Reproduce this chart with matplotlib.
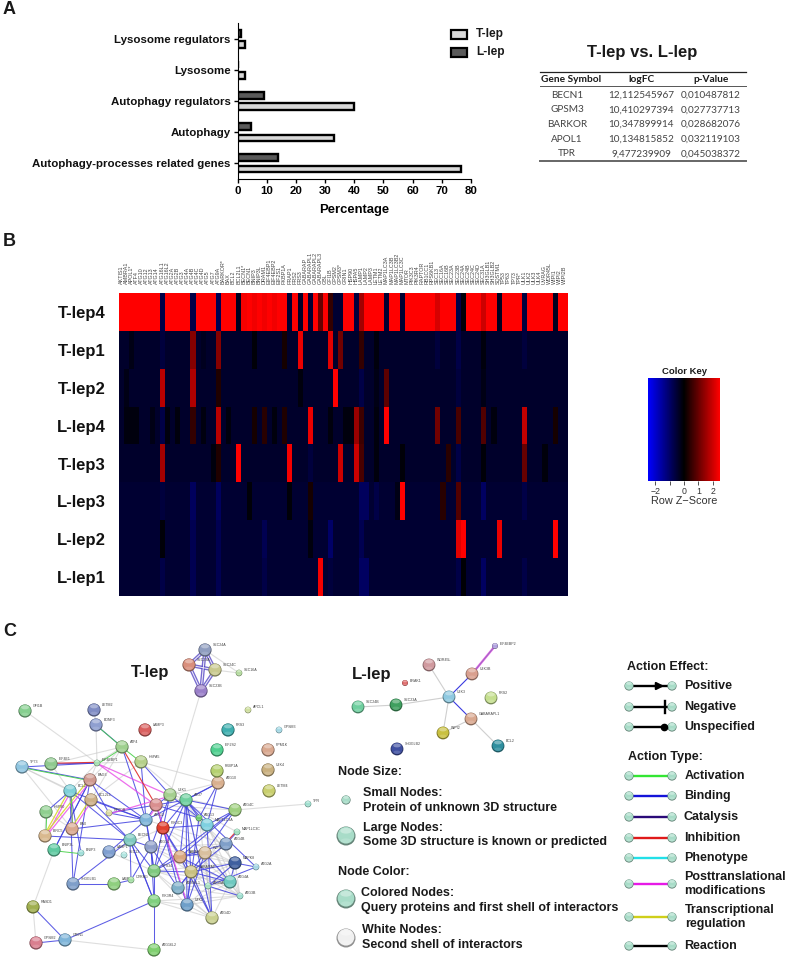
import numpy as np
from matplotlib import pyplot as plt
from matplotlib.colors import LinearSegmentedColormap, Normalize
from matplotlib.cm import ScalarMappable
from matplotlib.patches import Circle, Ellipse, Rectangle

W, H = 786, 959
FONT = 'Liberation Sans'
plt.rcParams['font.family'] = [FONT, 'DejaVu Sans']

# panel A
categories = ['Autophagy-processes related genes', 'Autophagy', 'Autophagy regulators',
              'Lysosome', 'Lysosome regulators']
t_lep = [76.5, 33, 40, 2.5, 2.5]
l_lep = [14, 4.5, 9, 0.3, 1.2]

table_head = ['Gene Symbol', 'logFC', 'p-Value']
table_genes = ['BECN1', 'GPSM3', 'BARKOR', 'APOL1', 'TPR']
table_logfc = ['12,112545967', '10,410297394', '10,347899914', '10,134815852', '9,477239909']
table_pval = ['0,010487812', '0,027737713', '0,028682076', '0,032119103', '0,045038372']

# panel B, stripes are {column: z-score}, everything else is the row's background
genes = ['AKTIS1', 'AMBRA1', 'APOL1*', 'ATF4', 'ATG10', 'ATG12', 'ATG13', 'ATG14', 'ATG16L1', 'ATG16L2',
         'ATG2A', 'ATG2B', 'ATG3', 'ATG4A', 'ATG4B', 'ATG4C', 'ATG4D', 'ATG5', 'ATG7', 'ATG9A',
         'BARKOR*', 'BAX', 'BCL2', 'BCL2L1', 'BECN1*', 'BECN1', 'BNIP3', 'BNIP3L', 'DRAM1', 'EIF4EBP1',
         'EIF4EBP2', 'EIF2S1', 'FKBP1A', 'FRAP1', 'FRS2', 'FRS3', 'GABARAP', 'GABARAPL1', 'GABARAPL2', 'GABARAPL3',
         'GBL', 'GFI1B', 'GPSM2', 'GPSM3*', 'GRIN1', 'HSP90', 'HSPA5', 'LAMP1', 'LAMP2', 'LAMP3',
         'LETM1', 'LETM2', 'MAP1LC3A', 'MAP1LC3B', 'MAP1LC3B2', 'MAP1LC3C', 'MTOR', 'PIK3C3', 'PIK3R4', 'RAPTOR',
         'RB1CC1', 'RPS6KB1', 'SEC13', 'SEC16A', 'SEC16B', 'SEC23A', 'SEC23B', 'SEC24A', 'SEC24B', 'SEC24C',
         'SEC24D', 'SEC31A', 'SH3GLB1', 'SH3GLB2', 'SQSTM1', 'TP53', 'TP63', 'TP73', 'TPR*', 'ULK1',
         'ULK2', 'ULK3', 'ULK4', 'UVRAG', 'WDR45L', 'WIPI1', 'WIPI2', 'WIPI2B']
row_names = ['T-lep4', 'T-lep1', 'T-lep2', 'L-lep4', 'T-lep3', 'L-lep3', 'L-lep2', 'L-lep1']
row_base = [2.5, -0.42, -0.42, -0.42, -0.42, -0.5, -0.5, -0.5]
row_tlep4 = {8: -0.7, 14: -0.7, 19: -0.8, 23: -0.3, 24: 2.4, 26: 2.35, 28: 2.35, 30: 2.35,
             33: -0.5, 35: -0.4, 37: -0.5, 39: 1.0, 41: 0.5, 42: -0.5, 43: -0.5, 46: -0.6,
             47: 1.6, 52: -0.5, 55: -0.5, 62: 2.1, 66: -0.7, 67: -0.08, 71: 2.0, 74: -0.3,
             79: -0.6, 85: -0.3}
row_tlep1 = {2: -0.2, 8: -0.6, 14: 1.3, 16: -0.3, 19: 1.3, 26: -0.08, 32: 0.2, 35: 2.3, 41: 2.2,
             43: 1.1, 47: 0.5, 50: -0.12, 62: -0.6, 66: -0.7, 71: -0.12, 79: -0.6}
row_tlep2 = {1: -0.2, 8: 1.8, 14: 1.7, 19: 0.3, 35: -0.12, 42: 2.5, 47: -0.7, 50: -0.2, 52: 0.9,
             66: -0.6, 71: -0.2}
row_llep4 = {1: -0.12, 2: -0.12, 3: -0.12, 6: -0.2, 8: -0.7, 9: -0.15, 11: -0.12, 14: 0.5, 16: -0.15,
             19: 1.8, 21: -0.12, 26: 0.2, 28: 0.4, 30: -0.12, 32: 0.3, 37: 2.3, 41: -0.12, 44: -0.12,
             45: -0.12, 46: 1.5, 47: 0.6, 50: -0.12, 52: 2.5, 62: 1.1, 66: 0.7, 71: 0.8, 73: -0.12,
             79: 1.9, 85: 0.2}
row_tlep3 = {8: 1.6, 18: -0.12, 19: 0.3, 23: 2.5, 33: 2.4, 37: -0.6, 43: 2.0, 46: 2.0, 47: 0.7,
             50: -0.12, 55: -0.08, 64: 0.4, 66: -0.7, 71: -0.08, 79: 1.0, 83: -0.1}
row_llep3 = {8: -0.6, 14: -0.9, 19: -0.9, 25: -0.08, 33: -0.08, 37: 0.2, 47: -0.9, 48: -0.9, 50: -0.7,
             54: -0.2, 55: 2.5, 63: 0.4, 66: 0.8, 71: -0.95, 79: -0.7}
row_llep2 = {8: -0.08, 14: -0.8, 19: -0.8, 28: -0.8, 37: -0.12, 41: -1.0, 47: -0.8, 66: 2.2, 67: 2.5,
             74: 2.3, 85: 2.5}
row_llep1 = {8: -0.7, 14: -0.8, 19: -0.8, 28: -0.7, 39: 2.4, 41: -0.6, 47: -0.95, 48: -0.95,
             66: -0.7, 67: -0.05, 71: -0.95, 79: -0.7}
row_stripes = [row_tlep4, row_tlep1, row_tlep2, row_llep4, row_tlep3, row_llep3, row_llep2, row_llep1]

key_ticks = [-2, -1, 0, 1, 2]
key_labels = ['\u22122', '', '0', '1', '2']

# panel C, STRING networks
t_names = ['SEC24A', 'SEC23A', 'SEC24C', 'SEC16A', 'SEC23B', 'GFI1B', 'LETM2', 'BDNF3', 'LAMP3',
           'ATF4', 'HSPA5', 'EIF4EBP1', 'EIF4E1', 'TP73', 'BAG3', 'BCL2', 'BCL2L1', 'HSP90',
           'BIRC5', 'BAX', 'RPTOR', 'BNIP3L', 'BNIP3', 'LAMP1', 'SEC13', 'BECN1', 'ATG12', 'MTOR',
           'ULK1', 'ATG7', 'PIK3C3', 'ATG13', 'MAP1LC3A', 'ATG10', 'FKBP1A', 'ATG4C', 'MAP1LC3C',
           'ATG4B', 'WIPI1', 'GABARAPL1', 'ATG14', 'VPS34', 'GABARAP', 'MAPK8', 'ATG2A', 'ATG4A',
           'ATG9A', 'ATG3B', 'ATG4D', 'ULK2', 'ATG16L1', 'UVRAG', 'LAMP2', 'SH3GLB1', 'PIK3R4',
           'RASD1', 'GPSM2', 'GRIN1', 'ATG16L2', 'APOL1', 'FRS3', 'GPSM3', 'EIF2S2', 'PPM1K',
           'ULK4', 'LETM4', 'TPR']
t_x = [205, 189, 215, 239, 201, 25, 94, 96, 145, 122, 141, 97, 51, 22, 90, 70, 91, 46, 45, 72,
       109, 54, 81, 109, 124, 130, 146, 156, 170, 186, 163, 199, 207, 218, 217, 235, 237, 226,
       205, 180, 151, 154, 191, 235, 256, 230, 208, 240, 212, 187, 178, 131, 114, 73, 154, 33,
       36, 65, 154, 248, 228, 279, 217, 268, 268, 269, 308]
t_y = [650, 665, 670, 673, 691, 711, 710, 725, 730, 747, 762, 763, 764, 767, 780, 791, 800, 812,
       836, 829, 813, 850, 853, 852, 855, 840, 820, 805, 795, 800, 828, 818, 825, 783, 771, 810,
       832, 844, 853, 857, 847, 871, 872, 863, 867, 882, 886, 896, 918, 905, 888, 880, 884, 884,
       901, 907, 943, 940, 950, 710, 730, 730, 750, 750, 770, 791, 804]
t_small = ['SEC16A', 'EIF4EBP1', 'RPTOR', 'BNIP3', 'SEC13', 'ATG13', 'MAP1LC3C', 'ATG2A', 'ATG9A',
           'ATG3B', 'UVRAG', 'APOL1', 'GPSM3', 'TPR']
t_colors = ['#8f9dbf', '#d98f7c', '#c9c98f', '#b5dba0', '#9a7fc9', '#86cf8f', '#7f8cc4', '#8f9fd0',
            '#d9605f', '#9fd08f', '#b5d08a', '#a5dfb0', '#8fc98f', '#8fc5e0', '#d09a90', '#7fd0d9',
            '#cdb088', '#8fcf8f', '#d9b98f', '#d9a88f', '#d9d9a0', '#5fc9a0', '#a0dfd9', '#7f9fd0',
            '#b0e5e0', '#7fc9c0', '#7fb5d9', '#d98f8f', '#a5cf8f', '#6fd09f', '#e0402f', '#6fc96f',
            '#7fd0e0', '#d9b08f', '#b5d070', '#9fd07f', '#9fe0c0', '#7f9fc9', '#d9bf9f', '#d9a77f',
            '#8f9fc9', '#7fc97f', '#c9c080', '#3f5f9f', '#a5d5e5', '#6fc9c0', '#a5dfc0', '#9fdfd0',
            '#c9d08f', '#6f9fc9', '#7fb0c9', '#a5dfa5', '#8fcf7f', '#7f9fc9', '#7fd07f', '#a0af4f',
            '#d97f8f', '#7fb5d9', '#7fcf6f', '#cfdf9f', '#3fafaf', '#a5d9e5', '#4fcf8f', '#d9a88f',
            '#c9b07f', '#c9cf6f', '#a0dfcf']
# interaction pairs
t_binding = [('ATF4', 'BDNF3'), ('ATF4', 'ATG12'), ('HSPA5', 'ATG12'), ('EIF4E1', 'EIF4EBP1'),
             ('TP73', 'BAG3'), ('TP73', 'EIF4EBP1'), ('BAG3', 'BNIP3L'), ('BCL2', 'BECN1'),
             ('BCL2', 'ATG12'), ('BCL2L1', 'BECN1'), ('BCL2L1', 'ATG12'), ('BAG3', 'ATG12'),
             ('BIRC5', 'BECN1'), ('BNIP3L', 'BAG3'), ('BAX', 'ATG12'), ('BNIP3', 'BCL2'),
             ('SH3GLB1', 'BAG3'), ('SH3GLB1', 'LAMP2'), ('SH3GLB1', 'BECN1'), ('SH3GLB1', 'BCL2'),
             ('LAMP1', 'ATG12'), ('UVRAG', 'ATG14'), ('UVRAG', 'LAMP2'), ('BECN1', 'VPS34'),
             ('BECN1', 'ATG14'), ('BECN1', 'UVRAG'), ('BECN1', 'PIK3R4'), ('ATG12', 'ATG14'),
             ('ATG12', 'VPS34'), ('ATG14', 'PIK3R4'), ('VPS34', 'PIK3R4'), ('ATG14', 'VPS34'),
             ('PIK3R4', 'GRIN1'), ('PIK3R4', 'ATG16L2'), ('PIK3R4', 'BECN1'), ('GPSM2', 'GRIN1'),
             ('RASD1', 'GRIN1'), ('HSPA5', 'ULK1'), ('MTOR', 'ATG7'), ('MTOR', 'ULK1'),
             ('MTOR', 'RPTOR'), ('MTOR', 'ATG12'), ('MTOR', 'PIK3C3'), ('MTOR', 'ATG13'),
             ('ULK1', 'ATG13'), ('ULK1', 'PIK3C3'), ('ULK1', 'ATG14'), ('ATG7', 'PIK3C3'),
             ('ATG7', 'ATG13'), ('ATG7', 'GABARAP'), ('ATG7', 'GABARAPL1'), ('ATG7', 'MAP1LC3A'),
             ('ATG7', 'ATG10'), ('ATG7', 'ATG4C'), ('ATG7', 'ATG2A'), ('ATG10', 'MAP1LC3A'),
             ('ATG10', 'ATG13'), ('ATG10', 'ATG12'), ('ATG4C', 'MAP1LC3A'), ('ATG4C', 'GABARAPL1'),
             ('ATG4C', 'WIPI1'), ('ATG4B', 'GABARAP'), ('ATG4B', 'MAP1LC3C'), ('ATG4B', 'GABARAPL1'),
             ('ATG4D', 'GABARAP'), ('ATG4D', 'MAP1LC3A'), ('ATG4D', 'ATG7'), ('ATG4D', 'GABARAPL1'),
             ('ATG4A', 'GABARAPL1'), ('ATG4A', 'WIPI1'), ('ATG4A', 'GABARAP'), ('ATG9A', 'ATG2A'),
             ('ATG9A', 'MAPK8'), ('ATG9A', 'ATG3B'), ('ULK2', 'ATG13'), ('ULK2', 'GABARAP'),
             ('ULK2', 'PIK3C3'), ('ULK2', 'ATG7'), ('ULK2', 'WIPI1'), ('ATG16L1', 'GABARAP'),
             ('ATG16L1', 'WIPI1'), ('ATG16L1', 'PIK3C3'), ('ATG16L1', 'ATG14'), ('VPS34', 'GABARAPL1'),
             ('VPS34', 'PIK3C3'), ('VPS34', 'ATG7'), ('VPS34', 'GABARAP'), ('VPS34', 'ATG4C'),
             ('PIK3C3', 'GABARAPL1'), ('PIK3C3', 'GABARAP'), ('PIK3C3', 'MAP1LC3A'),
             ('MAPK8', 'GABARAP'), ('MAPK8', 'ATG2A'), ('MAPK8', 'ATG4A'), ('WIPI1', 'GABARAPL1'),
             ('RPTOR', 'ATG12'), ('RPTOR', 'BAG3'), ('BCL2', 'HSP90')]
t_gray = [('SEC23B', 'ULK1'), ('SEC24C', 'SEC16A'), ('SEC24A', 'SEC16A'), ('SEC23A', 'SEC24C'),
          ('GFI1B', 'EIF4EBP1'), ('LETM2', 'BDNF3'), ('BDNF3', 'EIF4EBP1'), ('ATF4', 'EIF4EBP1'),
          ('ATF4', 'EIF4E1'), ('HSP90', 'BIRC5'), ('TP73', 'BCL2L1'), ('EIF4E1', 'BCL2'),
          ('BNIP3L', 'RASD1'), ('RASD1', 'GPSM2'), ('ATG16L2', 'GRIN1'), ('PIK3R4', 'ATG4D'),
          ('PIK3R4', 'ULK2'), ('PIK3R4', 'ATG3B'), ('ATG7', 'ATG4D'), ('ATG13', 'ATG4D'),
          ('MAP1LC3A', 'ATG3B'), ('TPR', 'ATG4C'), ('HSPA5', 'ATG7'), ('HSPA5', 'ATG10'),
          ('ULK1', 'MAP1LC3C'), ('MTOR', 'ATG4C'), ('ATG14', 'ATG4B'), ('LAMP1', 'VPS34'),
          ('LAMP1', 'PIK3C3'), ('ATG14', 'GABARAP'), ('ATG16L1', 'ATG4D'), ('ATG16L1', 'ATG4B'),
          ('GABARAP', 'ATG3B'), ('GABARAPL1', 'ATG3B'), ('ATG4B', 'ATG3B'), ('WIPI1', 'ATG4D'),
          ('GABARAPL1', 'ATG4D'), ('MAPK8', 'ATG3B'), ('ULK2', 'ATG3B'), ('ATG12', 'ATG4B'),
          ('ATG14', 'ATG4A'), ('ATG14', 'MAPK8'), ('VPS34', 'ATG4A'), ('VPS34', 'MAPK8'),
          ('VPS34', 'ATG4D'), ('VPS34', 'ATG3B'), ('VPS34', 'ULK2'), ('ATG16L1', 'MAPK8'),
          ('ATG16L1', 'ATG3B'), ('ATG16L1', 'ATG4A'), ('GABARAP', 'ATG9A'), ('GABARAP', 'WIPI1'),
          ('WIPI1', 'MAPK8'), ('WIPI1', 'ATG3B'), ('WIPI1', 'ATG9A'), ('ATG9A', 'ATG4A'),
          ('ATG9A', 'ATG4D'), ('ATG4A', 'ATG4D'), ('ATG4A', 'ATG3B'), ('ULK2', 'ATG4A'),
          ('ULK2', 'MAPK8'), ('ULK2', 'ATG4D'), ('PIK3C3', 'ATG4D'), ('PIK3C3', 'ATG4A'),
          ('PIK3C3', 'MAPK8'), ('ATG7', 'ATG4A'), ('ATG7', 'MAPK8'), ('ATG13', 'MAPK8'),
          ('ATG13', 'ATG4A'), ('ULK1', 'ATG10'), ('ULK1', 'ATG4C'), ('ULK1', 'ATG4B'),
          ('EIF4EBP1', 'BAG3'), ('EIF4EBP1', 'HSPA5'), ('BCL2', 'EIF4EBP1'), ('HSPA5', 'BCL2L1'),
          ('TP73', 'BCL2'), ('TP73', 'BAX'), ('HSP90', 'BAX'), ('ATF4', 'BCL2L1'), ('ATF4', 'BAG3')]
t_magenta = [('EIF4EBP1', 'MTOR'), ('EIF4EBP1', 'ULK1'), ('BAG3', 'BIRC5'), ('BCL2', 'BAX'),
             ('BCL2', 'BIRC5'), ('BCL2L1', 'BAX'), ('MTOR', 'ATG12'), ('RPTOR', 'ULK1'),
             ('MTOR', 'ULK2')]
t_yellow = [('BAG3', 'BIRC5'), ('BCL2', 'BIRC5'), ('BCL2L1', 'BAX')]
t_green = [('EIF4EBP1', 'ATF4'), ('HSP90', 'BIRC5'), ('BAX', 'BCL2'), ('BNIP3', 'BNIP3L'),
           ('TP73', 'BAG3'), ('BDNF3', 'ATF4'), ('HSPA5', 'ATF4')]
t_red = [('ATF4', 'MTOR'), ('EIF4E1', 'EIF4EBP1'), ('ATG4B', 'MAP1LC3C')]
t_ring = [('SEC24A', 'SEC23A'), ('SEC24A', 'SEC24C'), ('SEC23A', 'SEC24C'), ('SEC23A', 'SEC23B'),
          ('SEC24C', 'SEC23B'), ('SEC24A', 'SEC23B')]

l_names = ['EIF4EBP2', 'WDR45L', 'ULK3B', 'BNIP3', 'FRS2', 'ULK3', 'SEC23A', 'SEC24B', 'GABARAPL1',
           'WIPI2', 'BCL2', 'SH3GLB2']
l_labels = ['EIF4EBP2', 'WDR45L', 'ULK3B', 'BRAK1', 'FRS2', 'ULK3', 'SEC23A', 'SEC24B', 'GABARAPL1',
            'WIPI2', 'BCL2', 'SH3GLB2']
l_x = [495, 429, 472, 405, 491, 449, 396, 358, 471, 443, 498, 397]
l_y = [646, 665, 674, 683, 698, 697, 705, 707, 719, 733, 746, 749]
l_small = ['EIF4EBP2', 'BNIP3']
l_colors = ['#b0a0df', '#d09a9f', '#d9a08f', '#e06f6f', '#c5df8f', '#8fc9e0', '#3f9f5f', '#6fcf9f',
            '#d9a88f', '#c9c040', '#2f8f9f', '#3f4fa0']
l_binding = [('ULK3', 'ULK3B'), ('ULK3', 'GABARAPL1')]
l_gray = [('ULK3', 'SEC23A'), ('SEC23A', 'SEC24B'), ('ULK3', 'WDR45L'), ('ULK3', 'WIPI2'),
          ('GABARAPL1', 'WIPI2'), ('GABARAPL1', 'BCL2')]
l_magenta = [('EIF4EBP2', 'ULK3B')]

effect_names = ['Positive', 'Negative', 'Unspecified']
type_names = ['Activation', 'Binding', 'Catalysis', 'Inhibition', 'Phenotype',
              'Posttranslational\nmodifications', 'Transcriptional\nregulation', 'Reaction']
type_colors = ['#33e633', '#1414d9', '#2a0a78', '#e01a1a', '#22e0e8', '#e61ae6', '#cfcf1a', '#000000']

fig = plt.figure(figsize=(W / 100, H / 100), dpi=100, facecolor='white')


def px_axes(x0, y0, x1, y1, **kw):
    return fig.add_axes([x0 / W, 1 - y1 / H, (x1 - x0) / W, (y1 - y0) / H], **kw)


ax = px_axes(0, 0, W, H)
ax.set_xlim(0, W)
ax.set_ylim(H, 0)
ax.axis('off')


def label(x, y, s, size=9, weight='bold', ha='left', color='#1a1a1a', fam=FONT, **kw):
    ax.text(x, y, s, fontsize=size, fontweight=weight, ha=ha, va='center', color=color,
            family=fam, **kw)


def node(x, y, r, color):
    base = np.array(plt.matplotlib.colors.to_rgb(color))
    ax.add_patch(Circle((x, y), r, fc=tuple(base * 0.6), ec='none', zorder=4))
    ax.add_patch(Circle((x, y - r * 0.08), r * 0.88, fc=color, ec='none', zorder=4))
    ax.add_patch(Ellipse((x, y - r * 0.55), r * 1.2, r * 0.6, fc='white', alpha=0.35, ec='none', zorder=4))
    ax.add_patch(Ellipse((x, y + r * 0.5), r * 1.1, r * 0.5, fc='white', alpha=0.15, ec='none', zorder=4))


def draw_edges(pos, pairs, color, lw, alpha=1.0, offset=0.0):
    for a, b in pairs:
        ax.plot([pos[a][0] + offset, pos[b][0] + offset], [pos[a][1] + offset, pos[b][1] + offset],
                color=color, lw=lw, alpha=alpha, zorder=2, solid_capstyle='round')


# A: bars
bar_ax = px_axes(237.5, 23, 471, 179)
pos_y = np.arange(len(categories))
bar_ax.barh(pos_y - 0.18, t_lep, 0.22, color='#d8d8d8', edgecolor='black', linewidth=1.7)
bar_ax.barh(pos_y + 0.18, l_lep, 0.22, color='#5a5a5a', edgecolor='black', linewidth=1.7)
bar_ax.set_xlim(0, 80)
bar_ax.set_ylim(-0.5, 4.52)
bar_ax.set_yticks(pos_y)
bar_ax.set_yticklabels(categories, fontweight='bold', fontsize=8.25, color='#111111')
bar_ax.set_xticks(range(0, 81, 10))
bar_ax.tick_params(axis='x', labelsize=8.2, length=3, width=1, pad=2)
bar_ax.tick_params(axis='y', length=3, width=1, pad=2)
for t in bar_ax.get_xticklabels():
    t.set_fontweight('bold')
bar_ax.set_xlabel('Percentage', fontweight='bold', fontsize=9.4, labelpad=5.5)
bar_ax.spines['top'].set_visible(False)
bar_ax.spines['right'].set_visible(False)
bar_ax.patch.set_alpha(0)

label(3, 10, 'A', size=13)
label(3, 241, 'B', size=13)
label(3, 632, 'C', size=13)

for yy, name, col in [(34, 'T-lep', '#d8d8d8'), (52, 'L-lep', '#5a5a5a')]:
    ax.add_patch(Rectangle((450.5, yy - 4.5), 16.5, 9, fc=col, ec='black', lw=1.6))
    label(476, yy, name, size=8.6)

# A: table
label(642, 53, 'T-lep vs. L-lep', size=12, ha='center')
for yy, lw, col in [(72, 0.9, '#222222'), (86, 0.7, '#555555'), (161, 1.4, '#666666')]:
    ax.plot([540, 746], [yy, yy], color=col, lw=lw)
col_x = [571, 641, 711]
row_x = [567, 641, 711]
for cx, s in zip(col_x, table_head):
    label(cx, 79.5, s, size=7.3, ha='center', fam='Lato')
for i in range(len(table_genes)):
    yy = 95 + i * 14.75
    label(row_x[0], yy, table_genes[i], size=7.2, weight='normal', ha='center', color='#444444', fam='Lato')
    label(row_x[1], yy, table_logfc[i], size=7.2, weight='normal', ha='center', color='#444444', fam='Lato')
    label(row_x[2], yy, table_pval[i], size=7.2, weight='normal', ha='center', color='#444444', fam='Lato')

# B: heatmap
bbr = LinearSegmentedColormap.from_list('bbr', ['#0000ff', '#000000', '#ff0000'])
matrix = np.array([[row_stripes[r].get(c, row_base[r]) for c in range(len(genes))]
                   for r in range(len(row_names))])
hm_ax = px_axes(118.7, 293.3, 567.5, 596)
hm_ax.imshow(matrix, cmap=bbr, vmin=-2.5, vmax=2.5, aspect='auto', interpolation='nearest')
hm_ax.xaxis.tick_top()
hm_ax.set_xticks(np.arange(len(genes)))
hm_ax.set_xticklabels(genes, rotation=90, fontsize=3.9, color='#444444')
hm_ax.set_yticks(np.arange(len(row_names)))
hm_ax.set_yticklabels(row_names, fontweight='bold', fontsize=12, color='#111111')
hm_ax.tick_params(axis='both', length=0)
hm_ax.tick_params(axis='x', pad=7)
hm_ax.tick_params(axis='y', pad=9.5)
for s in hm_ax.spines.values():
    s.set_visible(False)

# B: colour key
key_ax = px_axes(648, 378, 720, 480.7)
sm = ScalarMappable(norm=Normalize(-2.5, 2.5), cmap=bbr)
cb = fig.colorbar(sm, cax=key_ax, orientation='horizontal')
cb.set_ticks(key_ticks)
cb.set_ticklabels(key_labels)
cb.outline.set_visible(False)
key_ax.tick_params(axis='x', length=3, width=0.6, labelsize=6.3, pad=1.5, colors='#333333')
label(684, 371, 'Color Key', size=6.8, ha='center')
label(684, 501, 'Row Z\u2212Score', size=7.8, weight='normal', ha='center', color='#333333')

# C: networks
t_pos = dict(zip(t_names, zip(t_x, t_y)))
draw_edges(t_pos, t_gray, '#c8c8c8', 0.8, 0.6)
draw_edges(t_pos, t_binding, '#4040e0', 0.75, 0.85)
draw_edges(t_pos, t_magenta, '#e84ae8', 0.9, 0.8, 0.8)
draw_edges(t_pos, t_yellow, '#d8d830', 0.9, 0.9, -0.8)
draw_edges(t_pos, t_green, '#45d045', 0.7, 0.9, 0.8)
draw_edges(t_pos, t_red, '#e02a2a', 0.8, 0.9, -0.7)
draw_edges(t_pos, t_ring, '#4a3ac0', 2.6, 0.75)
draw_edges(t_pos, t_ring, '#ffffff', 0.7, 0.9)
for n, x, y, col in zip(t_names, t_x, t_y, t_colors):
    r = 3.3 if n in t_small else 6.6
    node(x, y, r, col)
    label(x + r + 1.5, y - r * 0.8, n, size=2.6, weight='normal', color='#444444')

l_pos = dict(zip(l_names, zip(l_x, l_y)))
draw_edges(l_pos, l_gray, '#cfcfcf', 0.8)
draw_edges(l_pos, l_binding, '#3a3ae0', 0.8)
draw_edges(l_pos, l_magenta, '#e060e0', 1.6)
draw_edges(l_pos, l_magenta, '#8a70c0', 0.5)
for n, lab, x, y, col in zip(l_names, l_labels, l_x, l_y, l_colors):
    r = 3.0 if n in l_small else 6.4
    node(x, y, r, col)
    label(x + r + 1.5, y - r * 0.8, lab, size=2.6, weight='normal', color='#444444')

label(150, 673, 'T-lep', size=12, ha='center')
label(372, 674, 'L-lep', size=12, ha='center')

# C: legends
LEG = '#a8dcc8'
label(337.5, 772, 'Node Size:')
node(346, 800, 4.6, LEG)
label(363, 793, 'Small Nodes:')
label(363, 808, 'Protein of unknown 3D structure')
node(346, 836, 9.5, LEG)
label(363, 828, 'Large Nodes:')
label(363, 842, 'Some 3D structure is known or predicted')
label(337.5, 872, 'Node Color:')
node(346, 899, 9.5, LEG)
label(361, 893, 'Colored Nodes:')
label(361, 908, 'Query proteins and first shell of interactors')
node(346, 938, 9.5, '#f0f0f0')
label(362, 930, 'White Nodes:')
label(362, 945, 'Second shell of interactors')

label(627, 667, 'Action Effect:')
effect_y = [686, 707, 727]
for yy, name in zip(effect_y, effect_names):
    ax.plot([633, 667], [yy, yy], color='black', lw=1.7, zorder=3)
    node(629, yy, 4.6, LEG)
    node(672, yy, 4.6, LEG)
    label(684, yy, name)
ax.annotate('', xy=(667, effect_y[0]), xytext=(650, effect_y[0]),
            arrowprops=dict(arrowstyle='-|>', color='black', lw=1.5, mutation_scale=11), zorder=5)
ax.plot([665, 665], [effect_y[1] - 6, effect_y[1] + 6], color='black', lw=1.7, zorder=5)
ax.plot([663.5], [effect_y[2]], 'o', color='black', ms=4.5, zorder=5)

label(627.5, 757, 'Action Type:')
type_line_y = [776, 796, 817, 838, 858, 884, 917, 946]
type_text_x = [685, 684, 684, 684, 684, 684, 685, 684]
for yy, tx, name, col in zip(type_line_y, type_text_x, type_names, type_colors):
    ax.plot([633, 667], [yy, yy], color=col, lw=1.7, zorder=3)
    node(629, yy, 4.6, LEG)
    node(672, yy, 4.6, LEG)
    label(tx, yy, name, linespacing=1.25)

fig.savefig('out.png', dpi=100)
